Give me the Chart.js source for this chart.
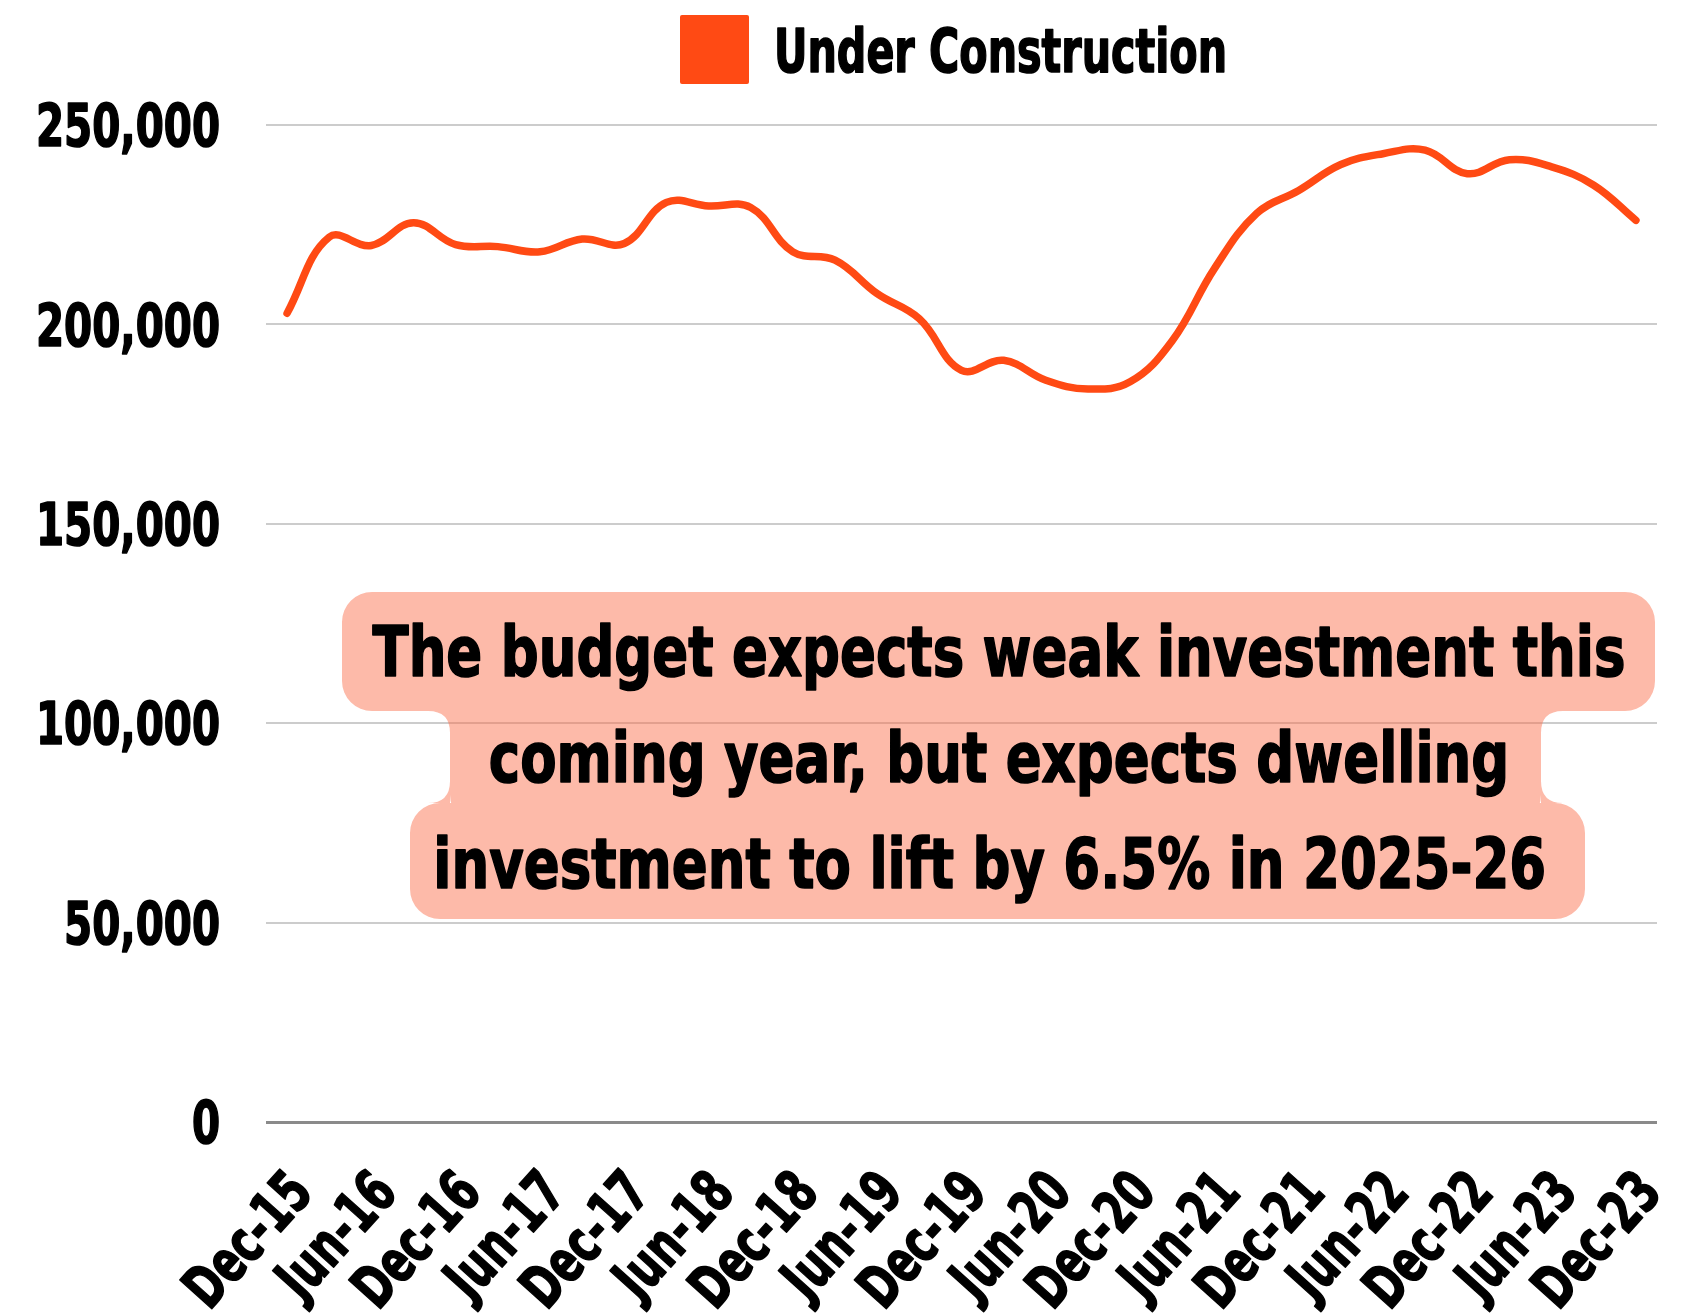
<!DOCTYPE html>
<html>
<head>
<meta charset="utf-8">
<script src="https://cdn.jsdelivr.net/npm/chart.js@4.4.1/dist/chart.umd.min.js"></script>
<style>
  html, body { margin: 0; padding: 0; background: #fff; }
  #wrap { width: 1702px; height: 1313px; position: relative; }
</style>
</head>
<body>
<div id="wrap"><canvas id="graph1"></canvas></div>
<script>
// quarterly dwellings under construction, Dec-15 to Dec-23
const quarters = [
  'Dec-15', 'Mar-16', 'Jun-16', 'Sep-16', 'Dec-16', 'Mar-17', 'Jun-17', 'Sep-17', 'Dec-17',
  'Mar-18', 'Jun-18', 'Sep-18', 'Dec-18', 'Mar-19', 'Jun-19', 'Sep-19', 'Dec-19',
  'Mar-20', 'Jun-20', 'Sep-20', 'Dec-20', 'Mar-21', 'Jun-21', 'Sep-21', 'Dec-21',
  'Mar-22', 'Jun-22', 'Sep-22', 'Dec-22', 'Mar-23', 'Jun-23', 'Sep-23', 'Dec-23'
];
const underConstruction = [
  202800, 221900, 219800, 225500, 220000, 219500, 218200, 221400, 220300,
  230600, 229700, 229300, 218200, 216100, 207700, 201400, 188500,
  191000, 186000, 183800, 185600, 195900, 214000, 227800, 233600,
  240100, 242800, 243700, 237800, 241300, 239500, 234900, 226100
];
const yTicks = [0, 50000, 100000, 150000, 200000, 250000];
const seriesName = 'Under Construction';
const noteLines = [
  'The budget expects weak investment this',
  'coming year, but expects dwelling',
  'investment to lift by 6.5% in 2025-26 '
];

const FONT = "'DejaVu Sans Condensed', 'DejaVu Sans', sans-serif";
const ORANGE = '#ff4a14';

// the original uses a very narrow heavy face, so squeeze the text horizontally
function narrowText(ctx, text, x, y, size, sx, align, angle) {
  ctx.save();
  ctx.font = 'bold ' + size + 'px ' + FONT;
  ctx.fillStyle = '#000';
  ctx.strokeStyle = '#000';
  ctx.lineWidth = 1.6;
  ctx.lineJoin = 'round';
  ctx.textAlign = align;
  ctx.textBaseline = 'alphabetic';
  ctx.translate(x, y);
  if (angle) ctx.rotate(angle);
  ctx.scale(sx, 1);
  ctx.fillText(text, 0, 0);
  ctx.strokeText(text, 0, 0);
  ctx.restore();
}

function squeezeFor(ctx, text, size, width) {
  ctx.save();
  ctx.font = 'bold ' + size + 'px ' + FONT;
  const w = ctx.measureText(text).width;
  ctx.restore();
  return width / w;
}

// legend, tick labels and the call-out box
const textPlugin = {
  id: 'narrowText',
  beforeDatasetsDraw(chart) {
    const ctx = chart.ctx;
    const a = chart.chartArea;
    const L = a.left, R = a.right, T = a.top;
    const b1 = [L + 76, T + 467, R - 2, T + 586];
    const b2 = [L + 184, T + 556, R - 116, T + 700];
    const b3 = [L + 144, T + 678, R - 72, T + 794];
    const r = 30, f = 22;
    ctx.save();
    ctx.fillStyle = 'rgba(250, 110, 75, 0.48)';
    ctx.beginPath();
    [b1, b2, b3].forEach(b => {
      ctx.roundRect(b[0], b[1], b[2] - b[0], b[3] - b[1], r);
    });
    // small concave fillets where the boxes meet
    const fillet = (x, y, dx, dy) => {
      ctx.moveTo(x, y);
      ctx.lineTo(x + dx * f, y);
      ctx.quadraticCurveTo(x, y, x, y + dy * f);
      ctx.closePath();
    };
    fillet(b2[0], b1[3], -1, 1);
    fillet(b2[2], b1[3], 1, 1);
    fillet(b2[0], b3[1], -1, -1);
    fillet(b2[2], b3[1], 1, -1);
    ctx.fill('nonzero');
    ctx.restore();
  },
  afterDraw(chart) {
    const ctx = chart.ctx;
    const a = chart.chartArea;
    const xs = chart.scales.x;
    const ys = chart.scales.y;

    // legend
    const legSize = 61;
    const legSx = squeezeFor(ctx, seriesName, legSize, 453);
    const box = 69, gap = 25;
    const legX = (a.left + a.right) / 2 - (box + gap + 453) / 2 - 8;
    ctx.save();
    ctx.fillStyle = ORANGE;
    ctx.beginPath();
    ctx.roundRect(legX, 15, box, box, 2);
    ctx.fill();
    ctx.restore();
    narrowText(ctx, seriesName, legX + box + gap, 72, legSize, legSx, 'left');

    // y tick labels
    const ySize = 58;
    const ySx = squeezeFor(ctx, '250,000', ySize, 184);
    yTicks.forEach(v => {
      const py = ys.getPixelForValue(v);
      narrowText(ctx, v.toLocaleString('en-US'), a.left - 46, py + ySize * 0.729 / 2, ySize, ySx, 'right');
    });

    // x tick labels, every second quarter
    const xSize = 59;
    const xSx = squeezeFor(ctx, 'Dec-23', xSize, 158);
    quarters.forEach((q, i) => {
      if (i % 2 !== 0) return;
      const px = xs.getPixelForTick(i);
      narrowText(ctx, q, px + 28, a.bottom + 72, xSize, xSx, 'right', -Math.PI * 48 / 180);
    });

    // call-out text
    const nSize = 70;
    const nSx = squeezeFor(ctx, noteLines[0], nSize, 1253);
    const cx = a.left + 733;
    noteLines.forEach((line, i) => {
      narrowText(ctx, line, cx, a.top + 551 + i * 106, nSize, nSx, 'center');
    });
  }
};

const ctx = document.getElementById('graph1').getContext('2d');
const myChart = new Chart(ctx, {
  type: 'line',
  data: {
    labels: quarters,
    datasets: [{
      label: seriesName,
      data: underConstruction,
      borderColor: ORANGE,
      backgroundColor: ORANGE,
      borderWidth: 7.5,
      pointRadius: 0,
      tension: 0.4,
      borderCapStyle: 'round',
      borderJoinStyle: 'round'
    }]
  },
  options: {
    responsive: true,
    maintainAspectRatio: false,
    animation: false,
    layout: { padding: { left: 0, right: 45, top: 125, bottom: 0 } },
    plugins: {
      tooltip: { enabled: false },
      legend: { display: false }
    },
    scales: {
      x: {
        offset: true,
        grid: { display: false },
        border: { display: false },
        ticks: { display: false },
        afterFit: axis => { axis.height = 191; }
      },
      y: {
        min: 0,
        max: 250000,
        afterBuildTicks: axis => {
          axis.ticks = yTicks.map(v => ({ value: v }));
        },
        afterFit: axis => { axis.width = 266; },
        border: { display: false },
        grid: {
          drawTicks: false,
          lineWidth: c => c.tick && c.tick.value === 0 ? 3 : 2,
          color: c => c.tick && c.tick.value === 0 ? '#8a8a8a' : '#cccccc'
        },
        ticks: { display: false }
      }
    }
  },
  plugins: [textPlugin]
});
</script>
</body>
</html>
